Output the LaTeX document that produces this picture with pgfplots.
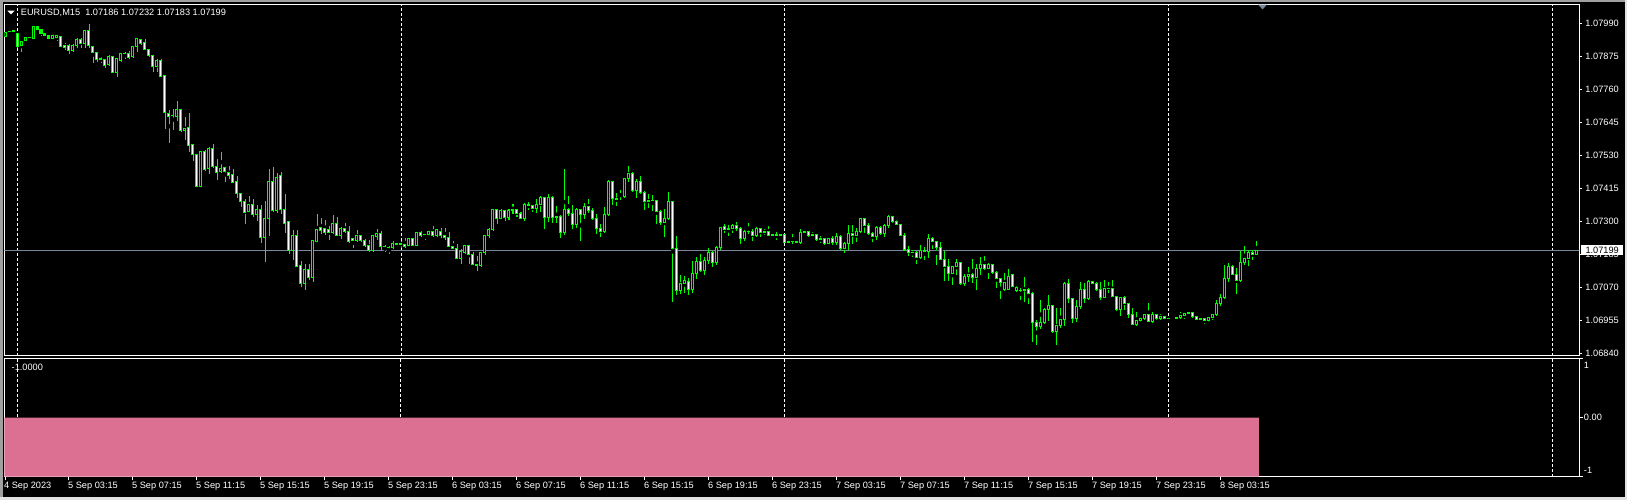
\documentclass[border=0pt]{standalone}
\usepackage{pgfplots}
\pgfplotsset{compat=1.18}
\usepackage{pgfplotstable}
\usepackage{fontspec}
\setmainfont{Liberation Sans}
\definecolor{mtgreen}{RGB}{0,255,0}
\definecolor{mtpink}{RGB}{219,112,147}
\definecolor{bidline}{RGB}{119,136,153}
\definecolor{winframe}{RGB}{160,160,160}
\definecolor{winlight}{RGB}{225,225,225}
\newcommand\mtf{\fontsize{9.2}{11}\selectfont}

\pgfplotstableread{
o h l c ind
1.07945 1.07961 1.07942 1.07959 -1
1.07960 1.07966 1.07956 1.07962 -1
1.07963 1.07969 1.07960 1.07966 -1
1.07955 1.07956 1.07906 1.07909 -1
1.07912 1.07931 1.07891 1.07928 -1
1.07930 1.07942 1.07928 1.07940 -1
1.07940 1.07942 1.07938 1.07939 -1
1.07938 1.07981 1.07937 1.07980 -1
1.07980 1.07981 1.07967 1.07968 -1
1.07968 1.07969 1.07945 1.07955 -1
1.07955 1.07956 1.07946 1.07947 -1
1.07948 1.07949 1.07932 1.07937 -1
1.07938 1.07953 1.07935 1.07946 -1
1.07941 1.07949 1.07930 1.07946 -1
1.07945 1.07946 1.07908 1.07909 -1
1.07914 1.07924 1.07899 1.07905 -1
1.07911 1.07917 1.07883 1.07895 -1
1.07895 1.07918 1.07891 1.07911 -1
1.07912 1.07938 1.07905 1.07934 -1
1.07934 1.07938 1.07905 1.07919 -1
1.07919 1.07968 1.07906 1.07966 -1
1.07966 1.07988 1.07903 1.07912 -1
1.07910 1.07911 1.07853 1.07889 -1
1.07889 1.07890 1.07856 1.07863 -1
1.07864 1.07874 1.07854 1.07866 -1
1.07864 1.07866 1.07835 1.07842 -1
1.07845 1.07882 1.07842 1.07873 -1
1.07875 1.07876 1.07817 1.07818 -1
1.07818 1.07868 1.07804 1.07866 -1
1.07862 1.07888 1.07856 1.07885 -1
1.07883 1.07891 1.07868 1.07885 -1
1.07885 1.07894 1.07868 1.07872 -1
1.07874 1.07911 1.07870 1.07908 -1
1.07908 1.07941 1.07891 1.07938 -1
1.07934 1.07938 1.07915 1.07919 -1
1.07924 1.07938 1.07897 1.07899 -1
1.07899 1.07903 1.07874 1.07877 -1
1.07877 1.07882 1.07822 1.07839 -1
1.07839 1.07865 1.07822 1.07859 -1
1.07859 1.07866 1.07803 1.07804 -1
1.07809 1.07810 1.07623 1.07679 -1
1.07676 1.07688 1.07574 1.07666 -1
1.07668 1.07690 1.07618 1.07669 -1
1.07665 1.07719 1.07650 1.07690 -1
1.07691 1.07694 1.07612 1.07616 -1
1.07616 1.07664 1.07583 1.07624 -1
1.07628 1.07678 1.07543 1.07564 -1
1.07566 1.07567 1.07511 1.07533 -1
1.07533 1.07535 1.07420 1.07421 -1
1.07421 1.07543 1.07420 1.07542 -1
1.07542 1.07549 1.07475 1.07482 -1
1.07485 1.07559 1.07466 1.07554 -1
1.07554 1.07569 1.07485 1.07491 -1
1.07491 1.07517 1.07445 1.07471 -1
1.07473 1.07543 1.07471 1.07485 -1
1.07486 1.07491 1.07436 1.07473 -1
1.07471 1.07493 1.07450 1.07459 -1
1.07464 1.07482 1.07435 1.07436 -1
1.07439 1.07457 1.07382 1.07398 -1
1.07398 1.07400 1.07350 1.07369 -1
1.07369 1.07378 1.07291 1.07330 -1
1.07334 1.07388 1.07331 1.07357 -1
1.07357 1.07378 1.07315 1.07324 -1
1.07323 1.07357 1.07302 1.07342 -1
1.07342 1.07357 1.07226 1.07244 -1
1.07244 1.07371 1.07159 1.07310 -1
1.07310 1.07482 1.07249 1.07439 -1
1.07439 1.07488 1.07332 1.07336 -1
1.07336 1.07472 1.07332 1.07453 -1
1.07458 1.07474 1.07326 1.07342 -1
1.07342 1.07395 1.07258 1.07293 -1
1.07298 1.07302 1.07186 1.07198 -1
1.07198 1.07270 1.07165 1.07251 -1
1.07251 1.07272 1.07140 1.07144 -1
1.07147 1.07161 1.07070 1.07084 -1
1.07084 1.07151 1.07061 1.07133 -1
1.07133 1.07151 1.07096 1.07104 -1
1.07104 1.07237 1.07090 1.07233 -1
1.07229 1.07326 1.07228 1.07270 -1
1.07277 1.07310 1.07256 1.07267 -1
1.07276 1.07305 1.07252 1.07260 -1
1.07272 1.07286 1.07237 1.07260 -1
1.07262 1.07321 1.07256 1.07293 -1
1.07294 1.07314 1.07249 1.07251 -1
1.07251 1.07281 1.07240 1.07276 -1
1.07276 1.07293 1.07258 1.07263 -1
1.07263 1.07284 1.07226 1.07229 -1
1.07240 1.07244 1.07207 1.07233 -1
1.07233 1.07270 1.07228 1.07249 -1
1.07249 1.07254 1.07229 1.07233 -1
1.07234 1.07238 1.07212 1.07215 -1
1.07215 1.07235 1.07194 1.07198 -1
1.07198 1.07251 1.07194 1.07249 -1
1.07247 1.07272 1.07237 1.07258 -1
1.07258 1.07267 1.07202 1.07212 -1
1.07211 1.07219 1.07194 1.07213 -1
1.07207 1.07214 1.07186 1.07209 -1
1.07209 1.07230 1.07202 1.07223 -1
1.07221 1.07226 1.07212 1.07219 -1
1.07219 1.07233 1.07209 1.07223 -1
1.07220 1.07242 1.07209 1.07212 -1
1.07214 1.07244 1.07214 1.07241 -1
1.07241 1.07244 1.07215 1.07217 -1
1.07217 1.07263 1.07215 1.07260 -1
1.07260 1.07267 1.07247 1.07251 -1
1.07254 1.07256 1.07237 1.07253 -1
1.07253 1.07265 1.07251 1.07263 -1
1.07263 1.07284 1.07247 1.07250 -1
1.07250 1.07274 1.07244 1.07270 -1
1.07266 1.07279 1.07244 1.07249 -1
1.07249 1.07277 1.07237 1.07244 -1
1.07244 1.07263 1.07209 1.07212 -1
1.07212 1.07230 1.07202 1.07205 -1
1.07205 1.07221 1.07168 1.07170 -1
1.07170 1.07205 1.07151 1.07193 -1
1.07193 1.07219 1.07186 1.07214 -1
1.07214 1.07215 1.07151 1.07185 -1
1.07185 1.07193 1.07147 1.07151 -1
1.07151 1.07179 1.07128 1.07145 -1
1.07145 1.07195 1.07142 1.07193 -1
1.07193 1.07252 1.07183 1.07249 -1
1.07249 1.07277 1.07244 1.07273 -1
1.07270 1.07344 1.07267 1.07342 -1
1.07342 1.07344 1.07291 1.07309 -1
1.07309 1.07342 1.07307 1.07339 -1
1.07339 1.07342 1.07302 1.07312 -1
1.07312 1.07342 1.07305 1.07336 -1
1.07336 1.07363 1.07328 1.07342 -1
1.07342 1.07344 1.07316 1.07328 -1
1.07328 1.07332 1.07308 1.07310 -1
1.07310 1.07365 1.07302 1.07360 -1
1.07360 1.07369 1.07339 1.07356 -1
1.07356 1.07358 1.07334 1.07344 -1
1.07344 1.07377 1.07328 1.07357 -1
1.07357 1.07388 1.07334 1.07384 -1
1.07384 1.07386 1.07273 1.07314 -1
1.07314 1.07395 1.07299 1.07384 -1
1.07384 1.07388 1.07293 1.07314 -1
1.07314 1.07353 1.07295 1.07315 -1
1.07315 1.07322 1.07241 1.07262 -1
1.07262 1.07482 1.07252 1.07342 -1
1.07342 1.07388 1.07319 1.07328 -1
1.07328 1.07357 1.07274 1.07288 -1
1.07288 1.07349 1.07277 1.07342 -1
1.07342 1.07342 1.07233 1.07323 -1
1.07323 1.07363 1.07307 1.07351 -1
1.07351 1.07377 1.07330 1.07339 -1
1.07339 1.07349 1.07305 1.07309 -1
1.07309 1.07328 1.07256 1.07274 -1
1.07274 1.07291 1.07247 1.07264 -1
1.07264 1.07351 1.07260 1.07324 -1
1.07324 1.07446 1.07319 1.07439 -1
1.07439 1.07442 1.07357 1.07379 -1
1.07379 1.07398 1.07353 1.07377 -1
1.07385 1.07411 1.07374 1.07386 -1
1.07386 1.07453 1.07380 1.07450 -1
1.07450 1.07493 1.07437 1.07467 -1
1.07467 1.07472 1.07402 1.07409 -1
1.07409 1.07446 1.07380 1.07439 -1
1.07439 1.07458 1.07395 1.07400 -1
1.07400 1.07407 1.07342 1.07370 -1
1.07370 1.07395 1.07345 1.07372 -1
1.07372 1.07391 1.07337 1.07371 -1
1.07371 1.07372 1.07291 1.07335 -1
1.07335 1.07342 1.07288 1.07296 -1
1.07296 1.07342 1.07247 1.07310 -1
1.07310 1.07402 1.07305 1.07370 -1
1.07368 1.07370 1.07020 1.07205 -1
1.07205 1.07249 1.07044 1.07060 -1
1.07060 1.07113 1.07049 1.07084 -1
1.07084 1.07109 1.07051 1.07092 -1
1.07090 1.07104 1.07043 1.07061 -1
1.07063 1.07161 1.07051 1.07119 -1
1.07117 1.07177 1.07102 1.07159 -1
1.07159 1.07186 1.07125 1.07129 -1
1.07129 1.07175 1.07114 1.07165 -1
1.07165 1.07207 1.07151 1.07193 -1
1.07193 1.07198 1.07142 1.07156 -1
1.07157 1.07216 1.07150 1.07209 -1
1.07209 1.07281 1.07200 1.07279 -1
1.07281 1.07291 1.07258 1.07272 -1
1.07273 1.07288 1.07249 1.07276 -1
1.07276 1.07291 1.07260 1.07284 -1
1.07284 1.07298 1.07265 1.07276 -1
1.07276 1.07278 1.07221 1.07240 -1
1.07240 1.07270 1.07233 1.07263 -1
1.07263 1.07295 1.07256 1.07264 -1
1.07264 1.07274 1.07233 1.07250 -1
1.07250 1.07281 1.07247 1.07276 -1
1.07276 1.07278 1.07247 1.07262 -1
1.07262 1.07273 1.07252 1.07263 -1
1.07263 1.07284 1.07250 1.07252 -1
1.07252 1.07255 1.07243 1.07254 -1
1.07254 1.07262 1.07236 1.07252 -1
1.07252 1.07255 1.07248 1.07254 -1
1.07254 1.07255 1.07223 1.07227 -1
1.07227 1.07235 1.07222 1.07229 -1
1.07229 1.07255 1.07220 1.07228 -1
1.07230 1.07235 1.07223 1.07227 -1
1.07227 1.07273 1.07222 1.07262 -1
1.07262 1.07276 1.07259 1.07264 -1
1.07264 1.07266 1.07248 1.07250 -1
1.07250 1.07262 1.07245 1.07255 -1
1.07255 1.07257 1.07231 1.07238 -1
1.07238 1.07248 1.07224 1.07241 -1
1.07241 1.07245 1.07220 1.07223 -1
1.07223 1.07243 1.07221 1.07241 -1
1.07241 1.07250 1.07218 1.07227 -1
1.07227 1.07259 1.07218 1.07248 -1
1.07248 1.07252 1.07200 1.07204 -1
1.07204 1.07229 1.07190 1.07222 -1
1.07222 1.07287 1.07200 1.07257 -1
1.07257 1.07287 1.07223 1.07250 -1
1.07250 1.07276 1.07227 1.07266 -1
1.07266 1.07313 1.07262 1.07310 -1
1.07310 1.07313 1.07262 1.07285 -1
1.07285 1.07294 1.07252 1.07257 -1
1.07257 1.07264 1.07229 1.07247 -1
1.07247 1.07285 1.07238 1.07280 -1
1.07280 1.07285 1.07252 1.07259 -1
1.07259 1.07292 1.07245 1.07287 -1
1.07287 1.07322 1.07276 1.07315 -1
1.07315 1.07317 1.07294 1.07299 -1
1.07299 1.07306 1.07287 1.07290 -1
1.07290 1.07292 1.07248 1.07250 -1
1.07250 1.07259 1.07199 1.07201 -1
1.07201 1.07215 1.07180 1.07190 -1
1.07190 1.07201 1.07176 1.07192 -1
1.07192 1.07197 1.07152 1.07173 -1
1.07173 1.07218 1.07169 1.07197 -1
1.07197 1.07211 1.07165 1.07195 -1
1.07195 1.07255 1.07171 1.07241 -1
1.07241 1.07245 1.07204 1.07229 -1
1.07229 1.07234 1.07148 1.07208 -1
1.07208 1.07229 1.07164 1.07166 -1
1.07166 1.07199 1.07092 1.07142 -1
1.07142 1.07171 1.07092 1.07118 -1
1.07118 1.07145 1.07080 1.07142 -1
1.07142 1.07169 1.07113 1.07157 -1
1.07157 1.07159 1.07080 1.07084 -1
1.07084 1.07118 1.07076 1.07106 -1
1.07106 1.07141 1.07087 1.07113 -1
1.07113 1.07169 1.07087 1.07104 -1
1.07104 1.07154 1.07061 1.07136 -1
1.07136 1.07176 1.07115 1.07148 -1
1.07148 1.07179 1.07132 1.07134 -1
1.07134 1.07154 1.07101 1.07148 -1
1.07148 1.07150 1.07118 1.07122 -1
1.07122 1.07127 1.07067 1.07101 -1
1.07101 1.07101 1.07029 1.07085 -1
1.07064 1.07119 1.07057 1.07087 -1
1.07062 1.07136 1.07060 1.07108 -1
1.07113 1.07115 1.07070 1.07072 -1
1.07058 1.07075 1.07055 1.07070 -1
1.07059 1.07068 1.07026 1.07058 -1
1.07058 1.07109 1.07020 1.07064 -1
1.07064 1.07066 1.07012 1.07049 -1
1.07049 1.07055 1.06881 1.06949 -1
1.06949 1.06956 1.06869 1.06933 -1
1.06933 1.07028 1.06924 1.06949 -1
1.06949 1.06997 1.06942 1.06991 -1
1.06991 1.07042 1.06954 1.07005 -1
1.07005 1.07007 1.06910 1.06915 -1
1.06915 1.07000 1.06869 1.06937 -1
1.06937 1.07000 1.06931 1.06958 -1
1.06958 1.07088 1.06935 1.07082 -1
1.07082 1.07098 1.07014 1.07030 -1
1.07030 1.07035 1.06947 1.06963 -1
1.06963 1.07026 1.06949 1.07003 -1
1.07003 1.07091 1.06997 1.07063 -1
1.07063 1.07086 1.07014 1.07030 -1
1.07030 1.07098 1.07028 1.07091 -1
1.07091 1.07095 1.07082 1.07084 -1
1.07084 1.07090 1.07058 1.07061 -1
1.07061 1.07088 1.07028 1.07033 -1
1.07033 1.07095 1.07033 1.07066 -1
1.07066 1.07088 1.07049 1.07065 -1
1.07065 1.07095 1.07035 1.07037 -1
1.07037 1.07042 1.06989 1.06991 -1
1.06991 1.07037 1.06972 1.07033 -1
1.07033 1.07040 1.06993 1.07014 -1
1.07014 1.07016 1.06961 1.06975 -1
1.06975 1.07000 1.06940 1.06941 -1
1.06941 1.06984 1.06935 1.06956 -1
1.06954 1.06968 1.06949 1.06963 -1
1.06963 1.06979 1.06956 1.06976 -1
1.06976 1.07016 1.06949 1.06950 -1
1.06950 1.06986 1.06947 1.06976 -1
1.06976 1.06977 1.06956 1.06961 -1
1.06961 1.06979 1.06956 1.06969 -1
1.06969 1.06972 1.06956 1.06960 -1
1.06960 1.06965 1.06956 1.06962 -1
1.06962 1.06963 1.06960 1.06962 -1
1.06962 1.06968 1.06961 1.06964 -1
1.06964 1.06984 1.06961 1.06972 -1
1.06970 1.06982 1.06961 1.06979 -1
1.06979 1.06984 1.06972 1.06982 -1
1.06982 1.06986 1.06965 1.06968 -1
1.06968 1.06970 1.06956 1.06958 -1
1.06958 1.06965 1.06953 1.06960 -1
1.06960 1.06963 1.06942 1.06956 -1
1.06956 1.06967 1.06951 1.06964 -1
1.06964 1.06979 1.06956 1.06976 -1
1.06976 1.07026 1.06972 1.07012 -1
1.07012 1.07047 1.07005 1.07035 -1
1.07035 1.07148 1.07030 1.07101 -1
1.07101 1.07154 1.07088 1.07144 -1
1.07144 1.07147 1.07112 1.07116 -1
1.07116 1.07140 1.07047 1.07093 -1
1.07093 1.07198 1.07088 1.07157 -1
1.07157 1.07214 1.07147 1.07172 -1
1.07172 1.07202 1.07144 1.07190 -1
1.07190 1.07202 1.07167 1.07186 -1
1.07186 1.07232 1.07183 1.07199 -1
}\candles

\pgfplotsset{
  mtaxis/.style={
    scale only axis, width=1575pt, xmin=-0.175, xmax=393.575,
    axis line style={white, line width=1pt},
    tick style={white, line width=1pt},
    tick align=outside,
    ticklabel style={font=\mtf, text=white},
    major grid style={white, line width=1pt, dash pattern=on 3pt off 2pt},
    extra x ticks={3,99,195,291,387}, extra x tick labels={},
    extra x tick style={grid=major, major tick length=0pt},
  },
}

\begin{document}
\begin{tikzpicture}
\fill[black] (0pt,0pt) rectangle (1627pt,500pt);

% main panel: frame, ticks, separators, wicks, bid line
\begin{axis}[mtaxis, at={(4.3pt,144pt)}, anchor=south west, height=351.5pt,
  ymin=30.6, ymax=1255.5,
  xtick=\empty,
  ytick={40,155,270,385,500,615,730,845,960,1075,1190},
  yticklabels={1.06840,1.06955,1.07070,1.07185,1.07300,1.07415,1.07530,1.07645,1.07760,1.07875,1.07990},
  ytick pos=right, yticklabel pos=right, major tick length=2.5pt,
  yticklabel style={anchor=west, inner sep=0pt, xshift=3.5pt},
]
\addplot[bidline, line width=1pt] coordinates {(-1,399) (400,399)};
\addplot[only marks, mark=none,
  error bars/.cd, y dir=both, y explicit, error mark=none,
  error bar style={mtgreen, line width=1pt}]
  table[x expr=\coordindex,
        y expr={((\thisrow{h}+\thisrow{l})/2-1.068)*100000},
        y error expr={(\thisrow{h}-\thisrow{l})/2*100000}] {\candles};
\end{axis}

% main panel: candle bodies
\begin{axis}[mtaxis, at={(4.3pt,144pt)}, anchor=south west, height=351.5pt,
  ymin=30.6, ymax=1255.5, hide axis, ybar stacked, bar width=0.5]
\addplot[draw=none, fill=none] table[x expr=\coordindex,
  y expr={(min(\thisrow{o},\thisrow{c})-1.068)*100000}] {\candles};
\addplot[draw=mtgreen, fill=black, line width=1pt] table[x expr=\coordindex,
  y expr={(\thisrow{c}>\thisrow{o})*(\thisrow{c}-\thisrow{o})*100000}] {\candles};
\addplot[draw=none, fill=none] table[x expr=\coordindex,
  y expr={-(\thisrow{c}>\thisrow{o})*(\thisrow{c}-\thisrow{o})*100000}] {\candles};
\addplot[draw=mtgreen, fill=white, line width=1pt] table[x expr=\coordindex,
  y expr={(\thisrow{c}<=\thisrow{o})*(\thisrow{o}-\thisrow{c})*100000}] {\candles};
\end{axis}

% indicator sub-window
\begin{axis}[mtaxis, at={(4.3pt,23.3pt)}, anchor=south west, height=118pt,
  ymin=-1, ymax=1,
  xtick={0,16,...,304},
  xticklabels={{4 Sep 2023},{5 Sep 03:15},{5 Sep 07:15},{5 Sep 11:15},{5 Sep 15:15},{5 Sep 19:15},{5 Sep 23:15},{6 Sep 03:15},{6 Sep 07:15},{6 Sep 11:15},{6 Sep 15:15},{6 Sep 19:15},{6 Sep 23:15},{7 Sep 03:15},{7 Sep 07:15},{7 Sep 11:15},{7 Sep 15:15},{7 Sep 19:15},{7 Sep 23:15},{8 Sep 03:15}},
  xtick pos=left, major tick length=3.5pt,
  xticklabel style={anchor=north west, inner sep=0pt, xshift=-1pt, yshift=-2pt},
  ytick={-1,0,1},
  yticklabels={{\raisebox{2.7pt}[0pt][0pt]{-1}},{\raisebox{-3.3pt}[0pt][0pt]{0.00}},{\raisebox{-9.6pt}[0pt][0pt]{1}}},
  ytick pos=right, yticklabel pos=right,
  yticklabel style={anchor=west, inner sep=0pt, xshift=1pt},
]
\addplot[ybar, bar width=1, fill=mtpink, draw=none] table[x expr=\coordindex, y=ind] {\candles};
\end{axis}

% window frame
\fill[winframe] (0pt,0pt) rectangle (3.3pt,500pt);
\fill[winframe] (0pt,498.3pt) rectangle (1627pt,500pt);
\fill[winlight] (0pt,0pt) rectangle (1627pt,2.7pt);
\fill[winlight] (1625.3pt,0pt) rectangle (1627pt,500pt);

% labels
\fill[white] (7.3pt,489.3pt) -- (14.7pt,489.3pt) -- (11pt,485.7pt) -- cycle;
\node[anchor=base west, inner sep=0pt, text=white, font=\mtf] at (20.7pt,484pt) {EURUSD,M15~~1.07186 1.07232 1.07183 1.07199};
\fill[bidline] (1258pt,495.3pt) -- (1267pt,495.3pt) -- (1262.5pt,490.7pt) -- cycle;
\node[anchor=base west, inner sep=0pt, text=white, font=\mtf] at (11.5pt,129pt) {-1.0000};
\node[fill=white, text=black, font=\mtf, anchor=west, inner xsep=4.3pt, inner ysep=0pt, minimum height=10pt] at (1581pt,249.8pt) {1.07199};

\pgfresetboundingbox
\useasboundingbox (0pt,0pt) rectangle (1627pt,500pt);
\end{tikzpicture}
\end{document}
